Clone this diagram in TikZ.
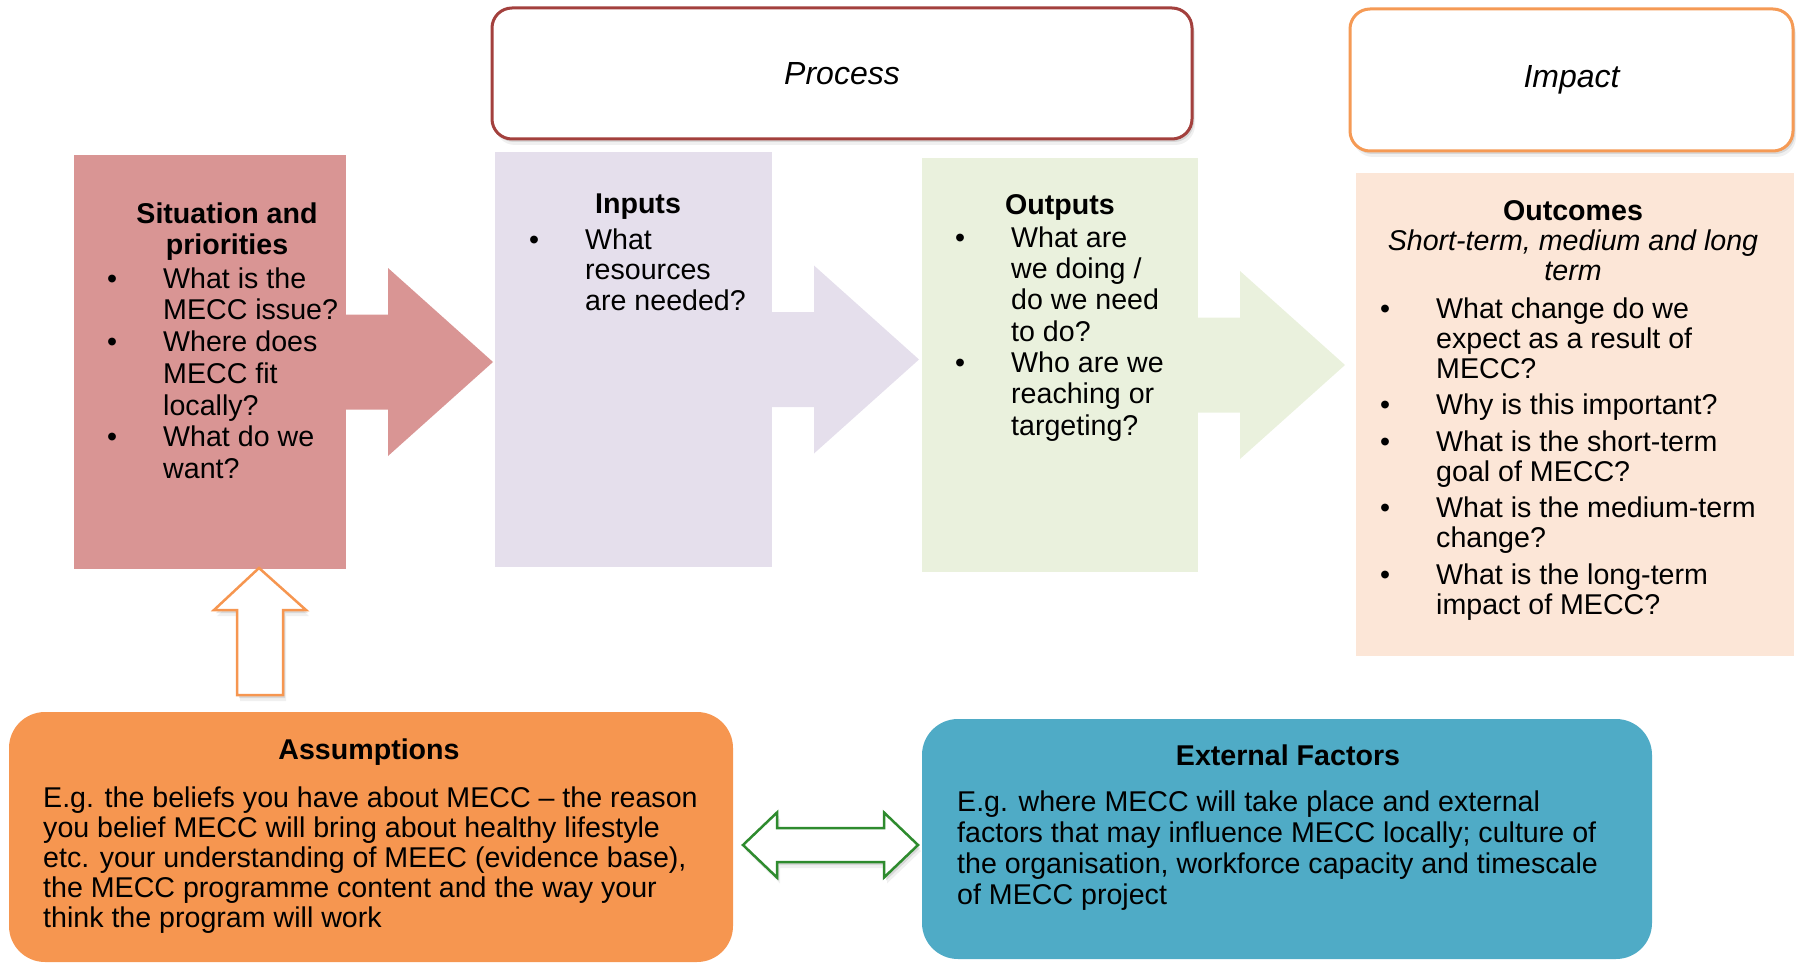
\documentclass[tikz,border=0pt]{standalone}
\usepackage{fontspec}
\setmainfont{Liberation Sans}
\usetikzlibrary{positioning,shadows}

\definecolor{sitfill}{HTML}{D99594}
\definecolor{infill}{HTML}{E5DFEC}
\definecolor{outfill}{HTML}{EAF1DD}
\definecolor{outcfill}{HTML}{FCE6D7}
\definecolor{assumfill}{HTML}{F69650}
\definecolor{extfill}{HTML}{4FABC6}
\definecolor{procline}{HTML}{A3403D}
\definecolor{impline}{HTML}{F59A55}
\definecolor{linkgreen}{HTML}{2E8B2E}

\newlength\bulindent
\setlength\bulindent{56pt}
\newcommand\bulitem{\makebox[\bulindent][l]{\textbullet}}
\newcommand\bulcont{\hspace*{\bulindent}}
% block arrow leaving a panel to the right
\newcommand\flowarrow[2]{\fill[#2] (#1.east) ++(-4,-47.5) -- ++(46,0) -- ++(0,-46.5)
  -- ++(105,94) -- ++(-105,94) -- ++(0,-46.5) -- ++(-46,0) -- cycle;}

\begin{document}
\begin{tikzpicture}[x=1pt, y=-1pt, node distance=425pt]
  \tikzstyle{softshadow} = [drop shadow={shadow xshift=2pt, shadow yshift=-3pt, fill=black, opacity=.10},
                            drop shadow={shadow xshift=3pt, shadow yshift=-6pt, fill=black, opacity=.06}]
  \tikzstyle{panel} = [rectangle, inner sep=0pt, outer sep=0pt]
  \tikzstyle{heading} = [rectangle, rounded corners=20pt, line width=3pt, fill=white,
                         font=\fontsize{32}{36}\selectfont\itshape, softshadow]
  \tikzstyle{bubble} = [rectangle, rounded corners=36pt, inner sep=0pt, outer sep=0pt]
  \tikzstyle{caption} = [inner sep=0pt, align=center, font=\fontsize{28.6}{31}\selectfont\bfseries]
  \tikzstyle{bullets} = [inner sep=0pt, align=left, font=\fontsize{28.6}{31}\selectfont]
  \tikzstyle{hollow} = [line width=2.5pt, fill=white, line join=miter, softshadow]

\useasboundingbox (0,0) rectangle (1797,963);

% panels
\node[heading, draw=procline, minimum width=700pt, minimum height=131pt] (proc) at (842,73.5) {Process};
\node[heading, draw=impline, right of=proc, xshift=304.5pt, yshift=-6.5pt, minimum width=443pt, minimum height=142pt] (imp) {Impact};
\node[panel, fill=sitfill, minimum width=272pt, minimum height=414pt] (sit) at (210,362) {};
\node[panel, fill=infill, right of=sit, xshift=-1.5pt, yshift=2.5pt, minimum width=277pt, minimum height=415pt] (inp) {};
\node[panel, fill=outfill, right of=inp, xshift=1.5pt, yshift=-5.5pt, minimum width=276pt, minimum height=414pt] (outp) {};
\node[panel, fill=outcfill, right of=outp, xshift=90pt, yshift=-49.5pt, minimum width=438pt, minimum height=483pt] (outc) {};
\node[bubble, fill=assumfill, below of=sit, xshift=161pt, yshift=-50pt, minimum width=724pt, minimum height=250pt] (assum) {};
\node[bubble, fill=extfill, right of=assum, xshift=491pt, yshift=-2pt, minimum width=730pt, minimum height=240pt] (ext) {};

\flowarrow{sit}{sitfill}
\flowarrow{inp}{infill}
\flowarrow{outp}{outfill}

\draw[hollow, draw=assumfill] ([xshift=49pt, yshift=1pt]sit.south) -- ++(47,42) -- ++(-23,0) -- ++(0,85)
  -- ++(-46,0) -- ++(0,-85) -- ++(-23,0) -- cycle;
\draw[hollow, draw=linkgreen] ([xshift=10pt, yshift=-8pt]assum.east) -- ++(34,-32.5) -- ++(0,15.5) -- ++(107,0)
  -- ++(0,-15.5) -- ++(34,32.5) -- ++(-34,32.5) -- ++(0,-15.5) -- ++(-107,0) -- ++(0,15.5) -- cycle;

% texts
\node[caption, font=\fontsize{28.6}{31.75}\selectfont\bfseries, below=45.8pt of sit.north, xshift=17pt] (sitT) {\strut Situation and\\ priorities};
\node[bullets, font=\fontsize{28.6}{31.75}\selectfont, below right=110.8pt and 33pt of sit.north west] (sitL)
  {\strut\bulitem What is the\\ \bulcont MECC issue?\\ \bulitem Where does\\ \bulcont MECC fit\\ \bulcont locally?\\
   \bulitem What do we\\ \bulcont want?};

\node[caption, below=39.3pt of inp.north, xshift=4.5pt] (inpT) {\strut Inputs};
\node[bullets, font=\fontsize{28.6}{30.5}\selectfont, below right=75.65pt and 34pt of inp.north west] (inpL)
  {\strut\bulitem What\\ \bulcont resources\\ \bulcont are needed?};

\node[caption, below=34.3pt of outp.north] (outpT) {\strut Outputs};
\node[bullets, font=\fontsize{28.6}{31.3}\selectfont, below right=67.1pt and 33pt of outp.north west] (outpL)
  {\strut\bulitem What are\\ \bulcont we doing /\\ \bulcont do we need\\ \bulcont to do?\\
   \bulitem Who are we\\ \bulcont reaching or\\ \bulcont targeting?};

\node[caption, font=\fontsize{28.6}{30}\selectfont, below=26pt of outc.north, xshift=-2pt] (outcT)
  {\strut\textbf{Outcomes}\\ \textit{Short-term, medium and long}\\ \textit{term}};
\node[bullets, font=\fontsize{28.6}{30}\selectfont, below right=124pt and 24pt of outc.north west] (outcL)
  {\strut\bulitem What change do we\\ \bulcont expect as a result of\\ \bulcont MECC?\\[6.5pt]
   \bulitem Why is this important?\\[6.5pt]
   \bulitem What is the short-term\\ \bulcont goal of MECC?\\[6.5pt]
   \bulitem What is the medium-term\\ \bulcont change?\\[6.5pt]
   \bulitem What is the long-term\\ \bulcont impact of MECC?};

\node[caption, below=25.3pt of assum.north, xshift=-2pt] (assumT) {\strut Assumptions};
\node[bullets, font=\fontsize{28.6}{30}\selectfont, below right=74pt and 34pt of assum.north west] (assumB)
  {\strut E.g. the beliefs you have about MECC – the reason\\ you belief MECC will bring about healthy lifestyle\\
   etc. your understanding of MEEC (evidence base),\\ the MECC programme content and the way your\\
   think the program will work};

\node[caption, below=24.3pt of ext.north, xshift=1pt] (extT) {\strut External Factors};
\node[bullets, below right=70.3pt and 35pt of ext.north west] (extB)
  {\strut E.g. where MECC will take place and external\\ factors that may influence MECC locally; culture of\\
   the organisation, workforce capacity and timescale\\ of MECC project};
\end{tikzpicture}
\end{document}
